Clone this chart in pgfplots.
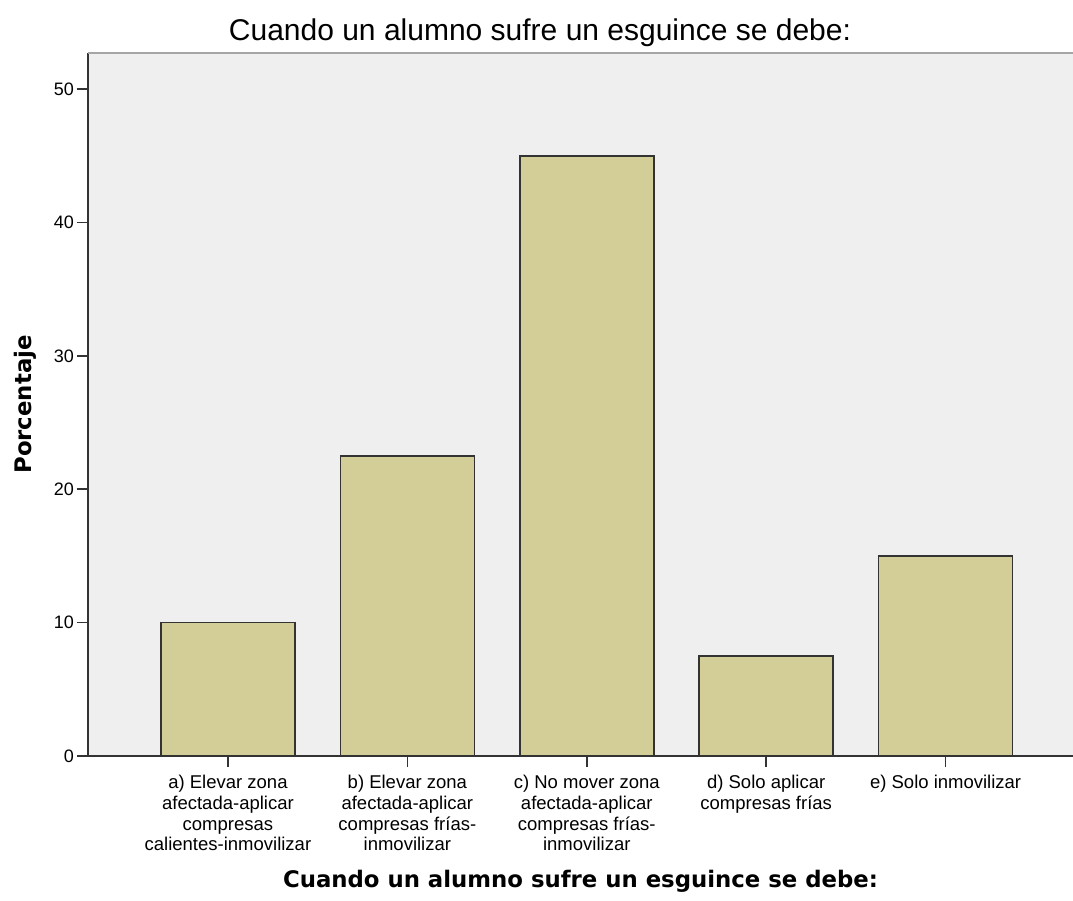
\documentclass[border=0pt]{standalone}
\usepackage{fontspec}
\setmainfont{Liberation Sans}
\newfontfamily\dejavu{DejaVu Sans}
\usepackage{pgfplots}
\pgfplotsset{compat=1.18}
\definecolor{plotbg}{HTML}{EFEFEF}
\definecolor{barfill}{HTML}{D3CE98}
\definecolor{edge}{HTML}{333333}

\begin{document}
\begin{tikzpicture}
\path[use as bounding box] (-88pt,-144pt) rectangle (985pt,756pt);
\begin{axis}[
    at={(0pt,0pt)}, anchor=south west,
    width=985pt, height=703pt, scale only axis,
    ybar, bar width=134pt,
    xmin=-0.78, xmax=4.71, ymin=0, ymax=52.7,
    enlargelimits=false, clip=false,
    xtick={0,1,2,3,4},
    xticklabels={
      {a) Elevar zona\\afectada-aplicar\\compresas\\calientes-inmovilizar},
      {b) Elevar zona\\afectada-aplicar\\compresas frías-\\inmovilizar},
      {c) No mover zona\\afectada-aplicar\\compresas frías-\\inmovilizar},
      {d) Solo aplicar\\compresas frías},
      {e) Solo inmovilizar}},
    ytick={0,10,...,50},
    axis x line*=bottom, axis y line*=left,
    axis line style={-, draw=edge, line width=1.6pt},
    tick style={draw=edge, line width=1.6pt},
    tick align=outside, major tick length=11pt,
    axis background/.style={fill=plotbg},
    /pgf/number format/assume math mode=true,
    yticklabel style={font=\fontsize{18}{20}\selectfont, inner sep=3pt},
    xticklabel style={font=\fontsize{18.5}{20.7}\selectfont, align=center,
      anchor=north, inner sep=2pt, yshift=-6pt},
  ]
  \addplot[fill=barfill, draw=edge, line width=1.6pt]
    coordinates {(0,10) (1,22.5) (2,45) (3,7.5) (4,15)};
\end{axis}
\draw[gray!70, line width=2.5pt] (0pt,703pt) -- (985pt,703pt);
\node[anchor=base, font=\fontsize{30}{36}\selectfont] at (452pt,715pt)
  {Cuando un alumno sufre un esguince se debe:};
\node[anchor=base, font=\dejavu\bfseries\fontsize{22.8}{27}\selectfont] at (492.5pt,-131pt)
  {Cuando un alumno sufre un esguince se debe:};
\node[rotate=90, anchor=base, font=\dejavu\bfseries\fontsize{22.8}{27}\selectfont] at (-56pt,351.5pt)
  {Porcentaje};
\end{tikzpicture}
\end{document}
